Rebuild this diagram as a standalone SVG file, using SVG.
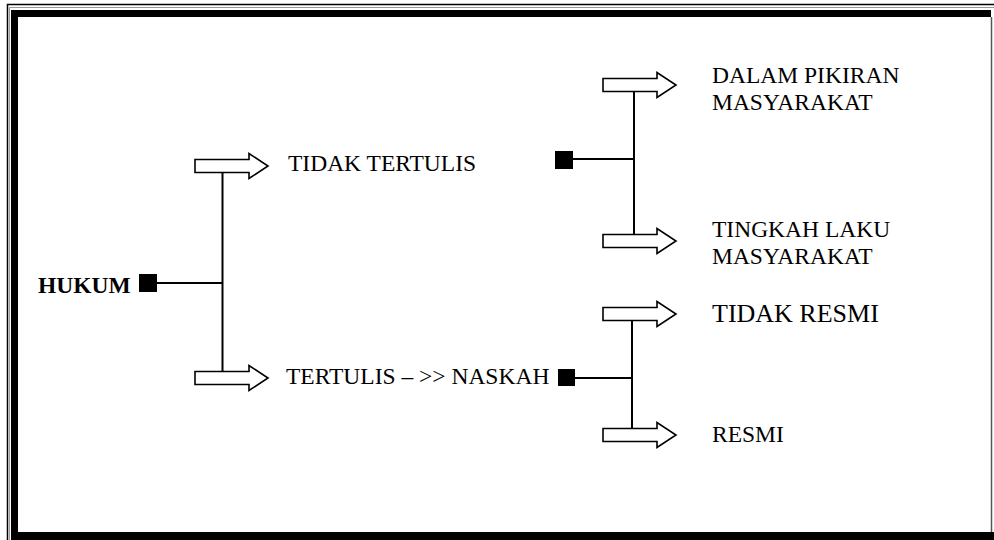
<svg xmlns="http://www.w3.org/2000/svg" width="994" height="540" viewBox="0 0 994 540">
<defs>
<style>
.t{font-family:"Liberation Serif","Times New Roman",serif;font-size:23.5px;fill:#000}
.b{font-weight:bold}
.ln{stroke:#000;stroke-width:2;fill:none}
.ar{fill:#fff;stroke:#000;stroke-width:1.6;stroke-linejoin:miter}
.sq{fill:#000}
</style>
<path id="arrow" d="M0,-6.5 H54 V-12.5 L73,0 L54,12.5 V6.5 H0 Z"/>
</defs>
<rect width="994" height="540" fill="#fff"/>
<g id="frame">
<path d="M7.5,540 V4.5 H994" stroke="#000" stroke-width="1.5" fill="none"/>
<path d="M9.5,540 V7.5 H994" stroke="#999" stroke-width="1" fill="none"/>
<rect x="11" y="10" width="7" height="530" fill="#000"/>
<rect x="11" y="10" width="980" height="7" fill="#000"/>
<path d="M991.5,17 V532" stroke="#555" stroke-width="1.5"/>
<rect x="11" y="532" width="983" height="8" fill="#000"/>
</g>
<g id="connectors">
<line class="ln" x1="157" y1="283" x2="223" y2="283"/>
<line class="ln" x1="222.5" y1="172.5" x2="222.5" y2="371.5"/>
<line class="ln" x1="573" y1="159" x2="635" y2="159"/>
<line class="ln" x1="634" y1="91.5" x2="634" y2="234.5"/>
<line class="ln" x1="575" y1="378" x2="633" y2="378"/>
<line class="ln" x1="632" y1="320.5" x2="632" y2="428.5"/>
<use href="#arrow" class="ar" transform="translate(195,166)"/>
<use href="#arrow" class="ar" transform="translate(195,378)"/>
<use href="#arrow" class="ar" transform="translate(603,85)"/>
<use href="#arrow" class="ar" transform="translate(603,241)"/>
<use href="#arrow" class="ar" transform="translate(603,314)"/>
<use href="#arrow" class="ar" transform="translate(603,435)"/>
</g>
<g id="hukum">
<text class="t b" x="38" y="293">HUKUM</text>
<rect class="sq" x="139" y="274" width="18" height="18"/>
</g>
<g id="tidak-tertulis">
<text class="t" x="288" y="171">TIDAK TERTULIS</text>
<rect class="sq" x="555" y="151" width="18" height="18"/>
</g>
<g id="tertulis">
<text class="t" x="286" y="384">TERTULIS – &gt;&gt; NASKAH</text>
<rect class="sq" x="558" y="369" width="17" height="17"/>
</g>
<g id="dalam-pikiran">
<text class="t" x="712" y="83">DALAM PIKIRAN</text>
<text class="t" x="712" y="110">MASYARAKAT</text>
</g>
<g id="tingkah-laku">
<text class="t" x="712" y="236.5">TINGKAH LAKU</text>
<text class="t" x="712" y="264">MASYARAKAT</text>
</g>
<g id="tidak-resmi">
<text class="t" x="712" y="322" style="font-size:26px">TIDAK RESMI</text>
</g>
<g id="resmi">
<text class="t" x="712" y="442">RESMI</text>
</g>
</svg>
